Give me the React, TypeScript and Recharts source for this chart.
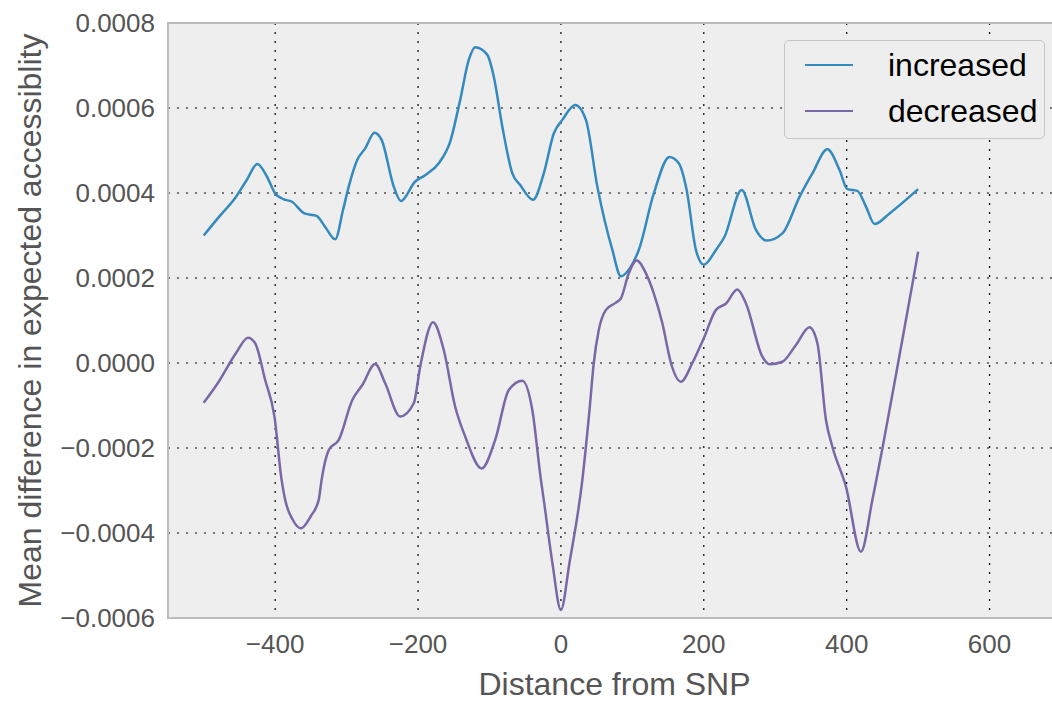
import React from "react";
import {
  LineChart,
  Line,
  XAxis,
  YAxis,
  CartesianGrid,
  ReferenceArea,
  Legend,
  Label,
} from "recharts";

// values
const incX = [
  -500, -478, -456, -440, -425, -412, -400, -388, -377, -359, -342, -330, -316, -305,
  -297, -285, -274, -261, -251, -234, -224, -204, -190, -171, -155, -141, -129, -120,
  -103, -94, -82, -68, -57, -39, -24, -10, 2, 20, 35, 51, 72, 84, 96, 109, 130, 152,
  165, 176, 189, 200, 217, 229, 253, 273, 288, 310, 334, 352, 373, 390, 401, 415, 427,
  439, 460, 500,
];
const incY = [
  0.0003, 0.000345, 0.000388, 0.00043, 0.000468, 0.00044, 0.000399, 0.000385, 0.00038,
  0.000352, 0.000346, 0.00032, 0.000291, 0.00036, 0.000415, 0.000478, 0.000505,
  0.000542, 0.000525, 0.000415, 0.000381, 0.000427, 0.000442, 0.00047, 0.000521,
  0.000619, 0.000713, 0.000743, 0.000725, 0.000674, 0.000556, 0.000446, 0.000419,
  0.000384, 0.000446, 0.00054, 0.000572, 0.000607, 0.000572, 0.000415, 0.000266,
  0.000204, 0.000222, 0.000266, 0.000399, 0.000485, 0.00047, 0.000407, 0.000266,
  0.000231, 0.000266, 0.000297, 0.000407, 0.000313, 0.000288, 0.000305, 0.000391,
  0.000446, 0.000503, 0.000454, 0.000409, 0.000405, 0.000368, 0.000327, 0.000352,
  0.000409,
];

const decX = [
  -500, -479, -455, -438, -428, -414, -401, -391, -386, -375, -364, -350, -339, -335,
  -325, -311, -292, -278, -260, -246, -225, -206, -197, -179, -164, -148, -134, -111,
  -92, -73, -54, -40, -28, -24, -12, 0, 12, 30, 40, 46, 53, 63, 77, 84, 95, 106, 119,
  130, 142, 154, 168, 184, 200, 217, 231, 247, 259, 282, 292, 310, 329, 348, 359, 371,
  380, 399, 420, 436, 450, 472, 493, 500,
];
const decY = [
  -0.0000934, -0.000044, 0.0000228, 0.0000595, 0.0000464, -0.00004, -0.000126,
  -0.000275, -0.000322, -0.00037, -0.000389, -0.00036, -0.000322, -0.000275,
  -0.000205, -0.000181, -0.000087, -0.0000518, -0.0000024, -0.0000478, -0.000126,
  -0.0000948, -0.0000087, 0.0000958, 0.0000306, -0.000103, -0.000173, -0.000248,
  -0.000181, -0.0000635, -0.0000416, -0.000111, -0.000275, -0.000322, -0.00047,
  -0.000581, -0.00047, -0.000275, -0.000111, 0, 0.0000776, 0.000125, 0.000142,
  0.000152, 0.000211, 0.000241, 0.000211, 0.000164, 0.0000934, 0, -0.000044, 0,
  0.0000581, 0.000125, 0.00014, 0.000173, 0.00014, 0.0000148, -0.000003, 0.000003,
  0.0000424, 0.000084, 0.0000463, -0.000134, -0.000197, -0.000291, -0.000444,
  -0.000322, -0.000201, 0, 0.000195, 0.000262,
];

const xTicks = [-400, -200, 0, 200, 400, 600];
const xTickLabels = ["\u2212400", "\u2212200", "0", "200", "400", "600"];
const yTicks = [-0.0006, -0.0004, -0.0002, 0, 0.0002, 0.0004, 0.0006, 0.0008];
const yTickLabels = [
  "\u22120.0006",
  "\u22120.0004",
  "\u22120.0002",
  "0.0000",
  "0.0002",
  "0.0004",
  "0.0006",
  "0.0008",
];

const seriesNames = ["increased", "decreased"];
const seriesColors = ["#348ABD", "#7A68A6"];

const FONT = "'Liberation Sans', Arial, Helvetica, sans-serif";

const incData = incX.map((x, i) => ({ x, y: incY[i] }));
const decData = decX.map((x, i) => ({ x, y: decY[i] }));

function LegendBox() {
  return (
    <div
      style={{
        width: 261,
        height: 99,
        boxSizing: "border-box",
        border: "1.5px solid #c6c6c6",
        borderRadius: 5,
        background: "#eeeeee",
        fontFamily: FONT,
        fontSize: 32,
        color: "#000",
        position: "relative",
      }}
    >
      {seriesNames.map((name, i) => (
        <div
          key={name}
          style={{
            position: "absolute",
            left: 20,
            top: 24 + i * 46 - 20,
            height: 40,
            display: "flex",
            alignItems: "center",
          }}
        >
          <div style={{ width: 48, height: 2.5, background: seriesColors[i] }} />
          <span style={{ marginLeft: 35, lineHeight: "40px" }}>{name}</span>
        </div>
      ))}
    </div>
  );
}

export default function App() {
  return (
    <div
      style={{
        position: "fixed",
        left: 0,
        top: 0,
        width: 1052,
        height: 702,
        overflow: "hidden",
        background: "#fff",
      }}
    >
      <LineChart
        width={1070}
        height={702}
        margin={{ top: 23, right: 9, bottom: 0, left: 0 }}
      >
        <CartesianGrid
          fill="#eeeeee"
          stroke="#000"
          strokeDasharray="2 7"
          strokeWidth={1.2}
          horizontalValues={yTicks}
          verticalValues={xTicks}
        />
        <XAxis
          dataKey="x"
          type="number"
          domain={[-550, 700]}
          ticks={xTicks}
          allowDataOverflow
          height={84}
          axisLine={false}
          tickLine={false}
          tickMargin={11}
          tick={{ fill: "#555", fontSize: 26, fontFamily: FONT }}
          tickFormatter={(v: number) => xTickLabels[xTicks.indexOf(v)]}
        >
          <Label
            content={(props: any) => {
              const vb = props.viewBox || {};
              return (
                <text
                  x={vb.x + vb.width / 2}
                  y={vb.y + 66}
                  textAnchor="middle"
                  dominantBaseline="central"
                  fill="#555"
                  fontSize={32}
                  fontFamily={FONT}
                >
                  Distance from SNP
                </text>
              );
            }}
          />
        </XAxis>
        <YAxis
          type="number"
          domain={[-0.0006, 0.0008]}
          ticks={yTicks}
          allowDataOverflow
          width={168}
          axisLine={false}
          tickLine={false}
          tickMargin={7}
          tick={{ fill: "#555", fontSize: 26, fontFamily: FONT }}
          tickFormatter={(v: number) => yTickLabels[yTicks.indexOf(v)]}
        >
          <Label
            content={(props: any) => {
              const vb = props.viewBox || {};
              const cx = vb.x + 30;
              const cy = vb.y + vb.height / 2;
              return (
                <text
                  x={cx}
                  y={cy}
                  transform={`rotate(-90, ${cx}, ${cy})`}
                  textAnchor="middle"
                  dominantBaseline="central"
                  fill="#555"
                  fontSize={32}
                  fontFamily={FONT}
                >
                  Mean difference in expected accessiblity
                </text>
              );
            }}
          />
        </YAxis>
        <ReferenceArea
          x1={-550}
          x2={700}
          y1={-0.0006}
          y2={0.0008}
          fill="none"
          stroke="#bcbcbc"
          strokeWidth={2}
        />
        <Line
          data={incData}
          dataKey="y"
          name={seriesNames[0]}
          type="monotone"
          stroke={seriesColors[0]}
          strokeWidth={2.5}
          dot={false}
          isAnimationActive={false}
        />
        <Line
          data={decData}
          dataKey="y"
          name={seriesNames[1]}
          type="monotone"
          stroke={seriesColors[1]}
          strokeWidth={2.5}
          dot={false}
          isAnimationActive={false}
        />
        <Legend
          layout="vertical"
          align="center"
          verticalAlign="middle"
          wrapperStyle={{ position: "absolute", left: 784, top: 40, width: 261, height: 99 }}
          content={() => <LegendBox />}
        />
      </LineChart>
    </div>
  );
}
